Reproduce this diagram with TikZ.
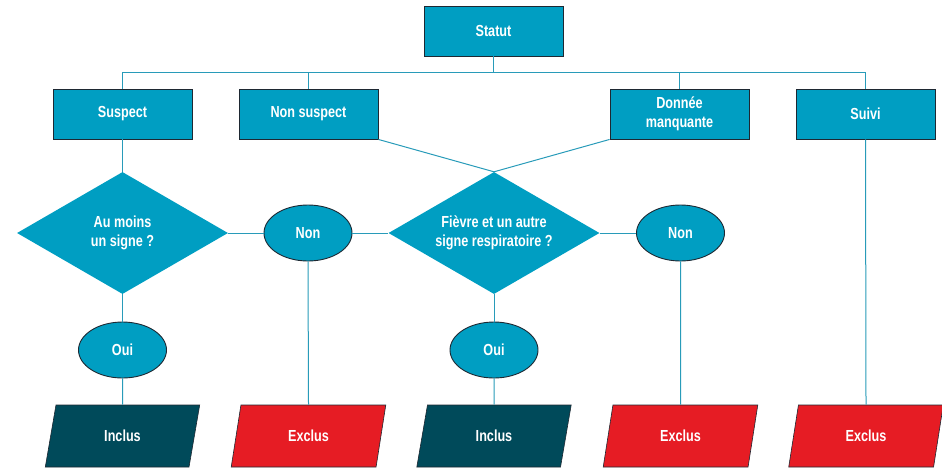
\documentclass[tikz,border=0pt]{standalone}
\usepackage{fontspec}
\setmainfont{Liberation Sans}[FakeStretch=0.79]
\usetikzlibrary{shapes.geometric}
\definecolor{cblue}{RGB}{0,158,194}
\definecolor{cdark}{RGB}{0,74,90}
\definecolor{cred}{RGB}{230,28,36}
\definecolor{cline}{RGB}{40,155,185}
\definecolor{cedge}{RGB}{30,40,50}
\tikzset{
  txt/.style={text=white,font=\fontsize{16}{19.5}\selectfont\bfseries,align=center},
  boxnode/.style={txt,rectangle,draw=cedge,line width=0.9pt,fill=cblue,minimum width=139,minimum height=50,inner sep=0},
  decision/.style={diamond,draw=none,fill=cblue,minimum width=211,minimum height=122,inner sep=0},
  answer/.style={txt,ellipse,draw=cedge,line width=0.9pt,fill=cblue,minimum width=88,minimum height=56,inner sep=0},
  outcome/.style={txt,trapezium,trapezium left angle=76,trapezium right angle=104,trapezium stretches=true,draw=cedge,line width=0.6pt,minimum width=155,minimum height=62,inner sep=0},
  inclnode/.style={outcome,fill=cdark},
  exclnode/.style={outcome,fill=cred},
  conn/.style={draw=cline,line width=1pt}
}
\begin{document}
\begin{tikzpicture}[x=1pt,y=-1pt]
\useasboundingbox (0,0) rectangle (942,467);
% nodes
\node[boxnode] (statut) at (493.5,31) {Statut};
\node[boxnode] (suspect) at (122.5,114) {Suspect};
\node[boxnode] (nonsusp) at (308.5,114) {Non suspect};
\node[boxnode] (donnee) at (679.5,114) {Donnée\\manquante};
\node[boxnode] (suivi) at (865.5,114) {Suivi};
\coordinate (bus) at (493.5,72);
\node[decision] (d1) at (122.5,233) {};
\node[txt] (d1t) at (d1.center) {Au moins\\un signe ?};
\node[decision] (d2) at (494,233) {};
\node[txt] (d2t) at (d2.center) {Fièvre et un autre\\signe respiratoire ?};
\node[answer] (non1) at (308,233) {Non};
\node[answer] (non2) at (680.5,233) {Non};
\node[answer] (oui1) at (122.5,350) {Oui};
\node[answer] (oui2) at (494,350) {Oui};
\node[inclnode] (inc1) at (122.5,436) {Inclus};
\node[exclnode] (exc1) at (308.5,436) {Exclus};
\node[inclnode] (inc2) at (494,436) {Inclus};
\node[exclnode] (exc2) at (680.5,436) {Exclus};
\node[exclnode] (exc3) at (866,436) {Exclus};
% connectors
\begin{scope}[conn]
\draw (statut.south) -- (bus);
\draw (suspect.north) |- (bus);
\draw (nonsusp.north) |- (bus);
\draw (donnee.north) |- (bus);
\draw (suivi.north) |- (bus);
\draw (suspect.south) -- (d1.north);
\draw (d1.east) -- (non1.west);
\draw (non1.east) -- (d2.west);
\draw (d2.east) -- (non2.west);
\draw (nonsusp.south east) -- (d2.north);
\draw (donnee.south west) -- (d2.north);
\draw (d1.south) -- (oui1.north);
\draw (oui1.south) -- (inc1.north);
\draw (d2.south) -- (oui2.north);
\draw (oui2.south) -- (inc2.north);
\draw (non1.south) -- (exc1.north);
\draw (non2.south) -- (exc2.north);
\draw (suivi.south) -- (exc3.north);
\end{scope}
\end{tikzpicture}
\end{document}
